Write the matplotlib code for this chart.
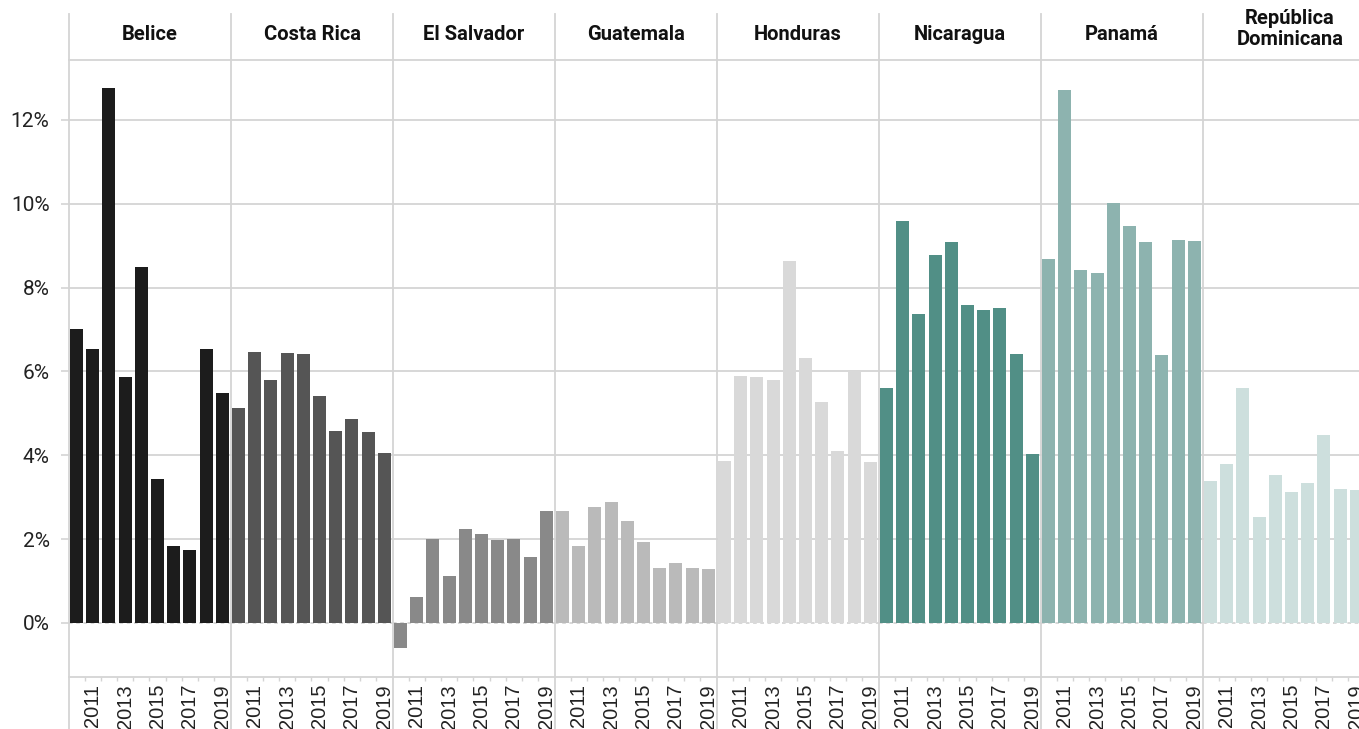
import matplotlib.pyplot as plt
from matplotlib.lines import Line2D
from matplotlib.ticker import FuncFormatter

plt.rcParams["font.family"] = ["Roboto", "DejaVu Sans"]

# ----------------------------
# Data (growth rate, %)
# ----------------------------
years = list(range(2010, 2020))
countries = ["Belice", "Costa Rica", "El Salvador", "Guatemala",
             "Honduras", "Nicaragua", "Panamá", "República\nDominicana"]

belice = [7.01, 6.54, 12.76, 5.87, 8.49, 3.44, 1.84, 1.74, 6.54, 5.49]
costa_rica = [5.13, 6.46, 5.80, 6.44, 6.42, 5.42, 4.58, 4.87, 4.56, 4.06]
el_salvador = [-0.60, 0.61, 2.01, 1.11, 2.24, 2.13, 1.98, 2.01, 1.58, 2.67]
guatemala = [2.67, 1.84, 2.76, 2.88, 2.43, 1.94, 1.30, 1.42, 1.30, 1.28]
honduras = [3.87, 5.89, 5.87, 5.80, 8.64, 6.32, 5.27, 4.10, 6.01, 3.84]
nicaragua = [5.61, 9.59, 7.37, 8.78, 9.09, 7.59, 7.47, 7.52, 6.42, 4.03]
panama = [8.69, 12.72, 8.42, 8.35, 10.03, 9.47, 9.09, 6.39, 9.14, 9.12]
rep_dominicana = [3.38, 3.78, 5.60, 2.53, 3.54, 3.12, 3.33, 4.49, 3.19, 3.17]

series = [belice, costa_rica, el_salvador, guatemala,
          honduras, nicaragua, panama, rep_dominicana]
colors = ["#1c1c1c", "#555555", "#898989", "#bababa",
          "#d9d9d9", "#518f86", "#8db3af", "#cddfdd"]

# ----------------------------
# Layout (pixels)
# ----------------------------
W, H = 1359, 729
LEFT = 69
PANEL = 162
HEADER_TOP = 14
PLOT_TOP = 60
PLOT_BOTTOM = 677
GRID = "#d4d4d4"

fig = plt.figure(figsize=(W / 100, H / 100), dpi=100)

pos = [i + 0.46 for i in range(len(years))]
gaps = [(a + b) / 2 for a, b in zip(pos[:-1], pos[1:])]

for k, (name, vals, color) in enumerate(zip(countries, series, colors)):
    x0 = LEFT + k * PANEL
    ax = fig.add_axes([x0 / W, (H - PLOT_BOTTOM) / H,
                       PANEL / W, (PLOT_BOTTOM - PLOT_TOP) / H])
    ax.bar(pos, vals, width=0.8, color=color, zorder=3)
    ax.set_xlim(0, 10)
    ax.set_ylim(-1.29, 13.43)

    ax.set_yticks(range(0, 13, 2))
    ax.yaxis.grid(True, color=GRID, lw=1.3, zorder=0)
    ax.get_ygridlines()[0].set_linestyle((0, (2, 2)))
    ax.set_axisbelow(True)

    for side in ["top", "right", "left"]:
        ax.spines[side].set_visible(False)
    ax.spines["bottom"].set_color(GRID)
    ax.spines["bottom"].set_linewidth(1.3)

    ax.set_xticks(pos[1::2])
    ax.set_xticklabels([str(y) for y in years[1::2]], rotation=90,
                       family=["Liberation Sans", "DejaVu Sans"],
                       fontsize=14.5, color="#222222")
    ax.set_xticks(gaps, minor=True)
    ax.tick_params(axis="x", which="major", length=0, pad=5)
    ax.tick_params(axis="x", which="minor", length=3, color=GRID, width=1)

    if k == 0:
        ax.yaxis.set_major_formatter(FuncFormatter(lambda v, p: f"{v:.0f}%"))
        ax.tick_params(axis="y", length=6, color=GRID, width=1.2,
                       labelsize=15, labelcolor="#222222", pad=8)
    else:
        ax.tick_params(axis="y", length=0, labelleft=False)

    # two-line headers sit a little higher in the band
    title_y = 29 if "\n" in name else 35
    fig.text((x0 + PANEL / 2 + (6 if "\n" in name else 0)) / W,
             1 - title_y / H, name, ha="center", va="center",
             fontsize=14.5, fontweight="bold", color="#111111",
             linespacing=1.1)

# panel separators and header rule
for k in range(len(countries)):
    x = (LEFT + k * PANEL) / W
    fig.add_artist(Line2D([x, x], [0, 1 - HEADER_TOP / H],
                          color=GRID, lw=1.3, transform=fig.transFigure))
fig.add_artist(Line2D([LEFT / W, 1], [1 - PLOT_TOP / H] * 2,
                      color=GRID, lw=1.3, transform=fig.transFigure))

fig.savefig("out.png", dpi=100)
